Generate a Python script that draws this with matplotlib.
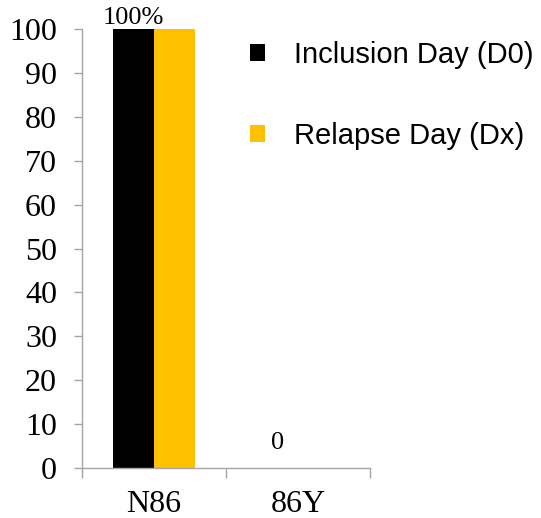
import numpy as np
import matplotlib.pyplot as plt

categories = ["N86", "86Y"]
inclusion_d0 = [100, 0]
relapse_dx = [100, 0]
bar_labels = ["100%", "0"]
yticks = list(range(0, 101, 10))

BLACK = "#000000"
ORANGE = "#FFC000"
GREY = "#A6A6A6"

fig = plt.figure(figsize=(5.41, 5.18), dpi=100)
ax = fig.add_axes([0.1516, 0.0965, 0.5324, 0.8475])

x = np.arange(len(categories))
w = 0.283
b1 = ax.bar(x - w / 2, inclusion_d0, w, color=BLACK, label="Inclusion Day (D0)")
b2 = ax.bar(x + w / 2, relapse_dx, w, color=ORANGE, label="Relapse Day (Dx)")

for xi, v, lab in zip(x, inclusion_d0, bar_labels):
    off = 0 if v > 0 else 10
    ax.annotate(lab, (xi - w / 2, v), xytext=(0, off), textcoords="offset points",
                ha="center", va="bottom", fontsize=19, family="Liberation Serif")

ax.set_xlim(-0.5, 1.5)
ax.set_ylim(0, 100)
ax.set_yticks(yticks)
ax.set_xticks(x)
ax.set_xticklabels(categories)
ax.set_xticks([-0.5, 0.5, 1.5], minor=True)

for s in ["top", "right"]:
    ax.spines[s].set_visible(False)
for s in ["left", "bottom"]:
    ax.spines[s].set_color(GREY)
    ax.spines[s].set_linewidth(1.0)

ax.tick_params(axis="y", length=6, width=1.0, color=GREY, pad=12, labelsize=23)
ax.tick_params(axis="x", which="major", length=0, pad=16, labelsize=23)
ax.tick_params(axis="x", which="minor", length=7, width=1.0, color=GREY)
for t in ax.get_xticklabels() + ax.get_yticklabels():
    t.set_family("Liberation Serif")

fig.legend(handles=[b1, b2], loc="upper left", bbox_to_anchor=(0.413, 0.971),
           frameon=False, prop={"family": "Liberation Sans", "size": 21},
           handlelength=0.52, handleheight=0.52, handletextpad=1.0, labelspacing=1.8)

fig.savefig("out.png", dpi=100)
